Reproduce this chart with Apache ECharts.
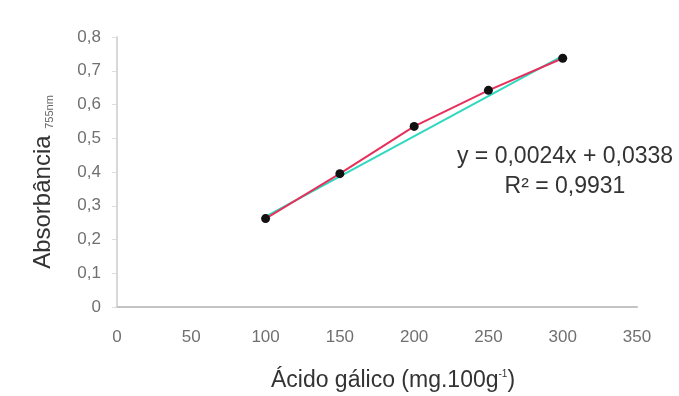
<!DOCTYPE html>
<html>
<head>
<meta charset="utf-8">
<script src="https://cdn.jsdelivr.net/npm/echarts@6/dist/echarts.min.js"></script>
<style>
html, body { margin: 0; padding: 0; background: #fff; }
#chart { width: 679px; height: 396px; }
</style>
</head>
<body>
<div id="chart"></div>
<script>
// concentration of gallic acid (mg.100g-1)
const concentrations = [100, 150, 200, 250, 300];
// measured absorbance
const absorbance = [0.262, 0.395, 0.535, 0.642, 0.737];
// linear trend endpoints as drawn
const trendX = [100, 300];
const trendY = [0.268, 0.744];
const equationText = 'y = 0,0024x + 0,0338';
const r2Text = 'R² = 0,9931';

const points = concentrations.map((c, i) => [c, absorbance[i]]);
const trend = trendX.map((c, i) => [c, trendY[i]]);

const chart = echarts.init(document.getElementById('chart'));
const comma = v => String(v).replace('.', ',');

chart.setOption({
    animation: false,
    grid: { left: 117, right: 42, top: 37, bottom: 89, outerBoundsMode: 'none' },
    xAxis: {
        type: 'value',
        min: 0,
        max: 350,
        interval: 50,
        name: 'Ácido gálico (mg.100g{sup|-1})',
        nameLocation: 'middle',
        nameGap: 62,
        nameTextStyle: {
            fontFamily: 'Liberation Sans',
            fontSize: 23,
            color: '#333',
            padding: [0, 0, 0, 32],
            rich: { sup: { fontSize: 10, verticalAlign: 'top', padding: [0, 0, 12, 0], color: '#333' } }
        },
        axisLine: { lineStyle: { color: '#c4c4c4', width: 2 } },
        axisTick: { show: false },
        splitLine: { show: false },
        axisLabel: { color: '#707070', fontFamily: 'Liberation Sans', fontSize: 17, margin: 22 }
    },
    yAxis: {
        type: 'value',
        min: 0,
        max: 0.8,
        interval: 0.1,
        name: 'Absorbância {sub|755nm}',
        nameLocation: 'middle',
        nameGap: 62,
        nameTextStyle: {
            fontFamily: 'Liberation Sans',
            fontSize: 24,
            color: '#333',
            padding: [0, 20, 0, 0],
            rich: { sub: { fontSize: 11, color: '#666', verticalAlign: 'bottom', padding: [10, 0, 0, 0] } }
        },
        axisLine: { show: true, lineStyle: { color: '#d8d8d8', width: 2 } },
        axisTick: { show: true, length: 5, lineStyle: { color: '#ddd' } },
        splitLine: { show: false },
        axisLabel: { color: '#707070', fontFamily: 'Liberation Sans', fontSize: 17, margin: 16, formatter: v => comma(v) }
    },
    series: [
        {
            name: 'Tendência',
            type: 'line',
            data: trend,
            symbol: 'none',
            lineStyle: { color: '#2fd9bf', width: 2 },
            z: 2
        },
        {
            name: 'Absorbância',
            type: 'line',
            data: points,
            symbol: 'circle',
            symbolSize: 9,
            itemStyle: { color: '#111' },
            lineStyle: { color: '#e6305c', width: 2 },
            z: 3
        }
    ],
    graphic: [
        {
            type: 'text',
            x: 565,
            y: 145,
            style: { text: equationText, font: '23px "Liberation Sans"', fill: '#333', align: 'center' }
        },
        {
            type: 'text',
            x: 565,
            y: 175,
            style: { text: r2Text, font: '23px "Liberation Sans"', fill: '#333', align: 'center' }
        }
    ]
});
</script>
</body>
</html>
